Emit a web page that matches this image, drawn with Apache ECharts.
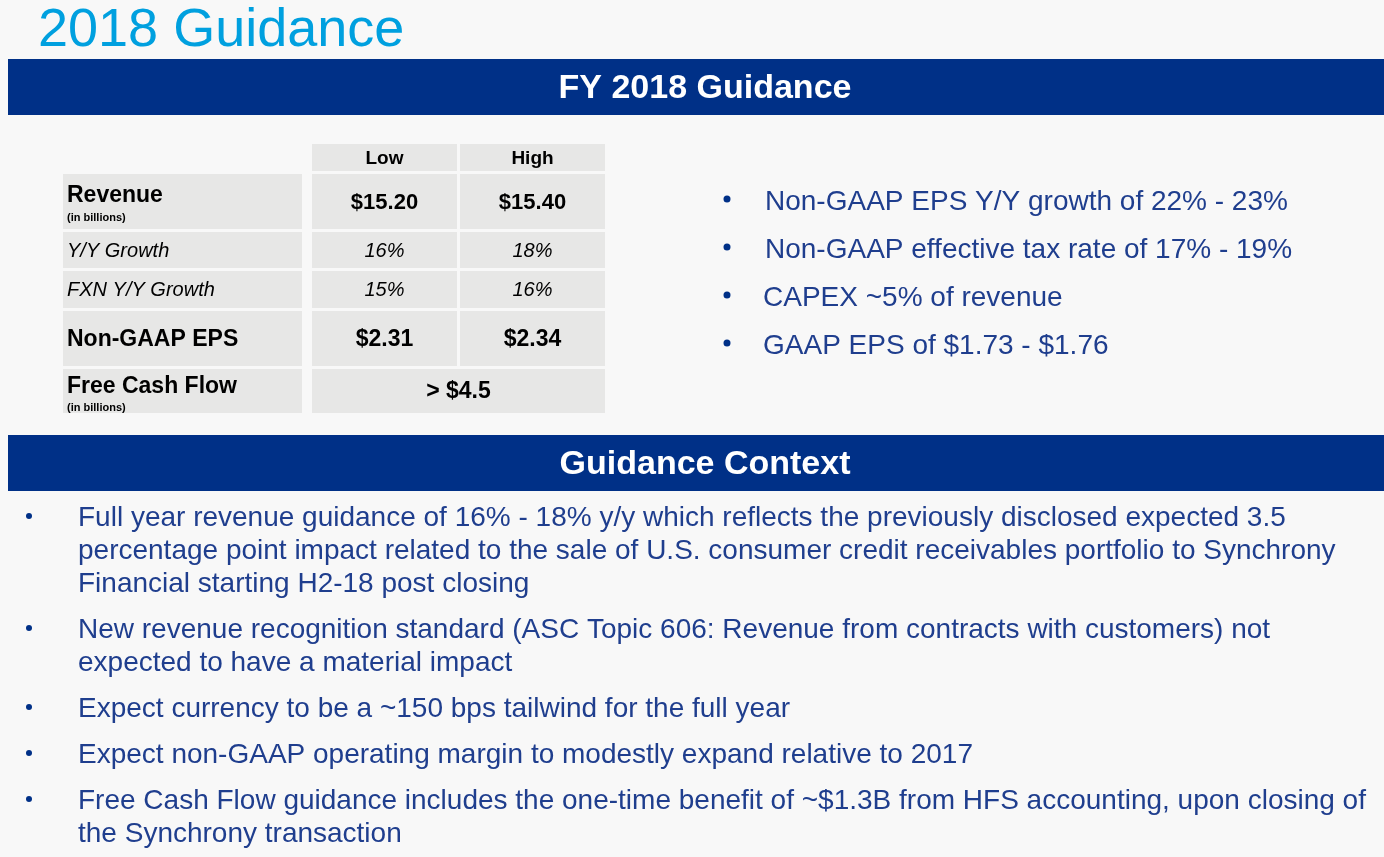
<!DOCTYPE html>
<html>
<head>
<meta charset="utf-8">
<script src="https://cdn.jsdelivr.net/npm/echarts@6/dist/echarts.min.js"></script>
<style>
  html, body { margin: 0; padding: 0; background: #f8f8f8; }
  #chart { width: 1384px; height: 857px; }
</style>
</head>
<body>
<div id="chart"></div>
<script>
// slide content
const pageTitle = '2018 Guidance'
const sectionTitles = ['FY 2018 Guidance', 'Guidance Context']

const columns = ['Low', 'High']
const rowLabels = ['Revenue', 'Y/Y Growth', 'FXN Y/Y Growth', 'Non-GAAP EPS', 'Free Cash Flow']
const rowNotes = ['(in billions)', '', '', '', '(in billions)']
const lowValues = ['$15.20', '16%', '15%', '$2.31', '> $4.5']
const highValues = ['$15.40', '18%', '16%', '$2.34', null] // null = merged with Low

const highlights = [
  'Non-GAAP EPS Y/Y growth of 22% - 23%',
  'Non-GAAP effective tax rate of 17% - 19%',
  'CAPEX ~5% of revenue',
  'GAAP EPS of $1.73 - $1.76'
]

const contextBullets = [
  ['Full year revenue guidance of 16% - 18% y/y which reflects the previously disclosed expected 3.5',
   'percentage point impact related to the sale of U.S. consumer credit receivables portfolio to Synchrony',
   'Financial starting H2-18 post closing'],
  ['New revenue recognition standard (ASC Topic 606: Revenue from contracts with customers) not',
   'expected to have a material impact'],
  ['Expect currency to be a ~150 bps tailwind for the full year'],
  ['Expect non-GAAP operating margin to modestly expand relative to 2017'],
  ['Free Cash Flow guidance includes the one-time benefit of ~$1.3B from HFS accounting, upon closing of',
   'the Synchrony transaction']
]

const FONT = '"Liberation Sans", Arial, sans-serif'
const NAVY = '#003087'
const TEXT_BLUE = '#1f3e8e'
const CELL = '#e7e7e6'

const chart = echarts.init(document.getElementById('chart'))
const g = []

// title
g.push({ type: 'text', x: 38, y: 31, style: { text: pageTitle, fill: '#00a0df', font: '54px ' + FONT, verticalAlign: 'middle' } })

// section bands
const bandTops = [59, 435]
const bandH = 56
sectionTitles.forEach((t, i) => {
  g.push({ type: 'rect', shape: { x: 8, y: bandTops[i], width: 1376, height: bandH }, style: { fill: NAVY } })
  g.push({ type: 'text', x: 705, y: bandTops[i] + bandH / 2 + 2,
    style: { text: t, fill: '#fff', font: 'bold 34px ' + FONT, align: 'center', verticalAlign: 'middle' } })
})

// table layout
const labelX = 63, labelW = 239
const colX = [312, 460], colW = 145
const gap = 3
const headerTop = 144, headerH = 27
const rowH = [55, 36, 37, 55, 44]
const rowFont = ['bold 23px', 'italic 20px', 'italic 20px', 'bold 23px', 'bold 23px']
const valFont = ['bold 22px', 'italic 20px', 'italic 20px', 'bold 23px', 'bold 23px']
const labelOffset = [22, 0, 0, 0, 18]
const noteOffset = [44, 0, 0, 0, 39]

columns.forEach((c, j) => {
  g.push({ type: 'rect', shape: { x: colX[j], y: headerTop, width: colW, height: headerH }, style: { fill: CELL } })
  g.push({ type: 'text', x: colX[j] + colW / 2, y: headerTop + headerH / 2 + 1,
    style: { text: c, fill: '#000', font: 'bold 19px ' + FONT, align: 'center', verticalAlign: 'middle' } })
})

let y = headerTop + headerH + gap
rowLabels.forEach((label, i) => {
  const h = rowH[i]
  g.push({ type: 'rect', shape: { x: labelX, y: y, width: labelW, height: h }, style: { fill: CELL } })
  const hasNote = rowNotes[i] !== ''
  g.push({ type: 'text', x: labelX + 4, y: y + (hasNote ? labelOffset[i] : h / 2 + 1),
    style: { text: label, fill: '#000', font: rowFont[i] + ' ' + FONT, verticalAlign: 'middle' } })
  if (hasNote) {
    g.push({ type: 'text', x: labelX + 4, y: y + noteOffset[i],
      style: { text: rowNotes[i], fill: '#000', font: 'bold 11px ' + FONT, verticalAlign: 'middle' } })
  }
  if (highValues[i] === null) {
    const w = colX[1] + colW - colX[0]
    g.push({ type: 'rect', shape: { x: colX[0], y: y, width: w, height: h }, style: { fill: CELL } })
    g.push({ type: 'text', x: colX[0] + w / 2, y: y + h / 2 + 1,
      style: { text: lowValues[i], fill: '#000', font: valFont[i] + ' ' + FONT, align: 'center', verticalAlign: 'middle' } })
  } else {
    [lowValues[i], highValues[i]].forEach((v, j) => {
      g.push({ type: 'rect', shape: { x: colX[j], y: y, width: colW, height: h }, style: { fill: CELL } })
      g.push({ type: 'text', x: colX[j] + colW / 2, y: y + h / 2 + 1,
        style: { text: v, fill: '#000', font: valFont[i] + ' ' + FONT, align: 'center', verticalAlign: 'middle' } })
    })
  }
  y += h + gap
})

// right-hand highlights
highlights.forEach((t, i) => {
  const cy = 201 + i * 48
  g.push({ type: 'circle', shape: { cx: 727, cy: cy - 2, r: 3.5 }, style: { fill: NAVY } })
  g.push({ type: 'text', x: i < 2 ? 765 : 763, y: cy + 1, style: { text: t, fill: TEXT_BLUE, font: '28px ' + FONT, verticalAlign: 'middle' } })
})

// guidance context bullets
const lineH = 33
const bulletGap = 13
let ly = 517
contextBullets.forEach((lines) => {
  g.push({ type: 'circle', shape: { cx: 29, cy: ly - 1, r: 3 }, style: { fill: NAVY } })
  lines.forEach((line, k) => {
    g.push({ type: 'text', x: 78, y: ly + k * lineH + 1, style: { text: line, fill: TEXT_BLUE, font: '28px ' + FONT, verticalAlign: 'middle' } })
  })
  ly += lines.length * lineH + bulletGap
})

chart.setOption({
  backgroundColor: '#f8f8f8',
  animation: false,
  graphic: { elements: g }
})
window.addEventListener('resize', () => chart.resize())
</script>
</body>
</html>
